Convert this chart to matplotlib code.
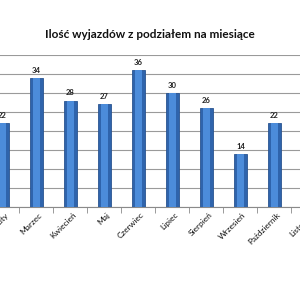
import matplotlib
matplotlib.use("Agg")
from matplotlib import pyplot as plt

plt.rcParams["font.family"] = ["Lato", "DejaVu Sans"]

months = ["Luty", "Marzec", "Kwiecień", "Maj", "Czerwiec", "Lipiec",
          "Sierpień", "Wrzesień", "Październik", "Listopad"]
trips = [22, 34, 28, 27, 36, 30, 26, 14, 22, 20]

fig = plt.figure(figsize=(3, 3), dpi=100)
fig.patch.set_facecolor("white")
ax = fig.add_axes([0, 0.31, 1, 0.5067])

xs = list(range(len(months)))
ax.bar(xs, trips, width=0.38, color="#2f64ac", edgecolor="#2a5490", linewidth=0.6, zorder=3)
ax.bar(xs, trips, width=0.18, color="#4c8cda", linewidth=0, zorder=4)

for x, v in zip(xs, trips):
    ax.annotate(str(v), (x, v), xytext=(0, 3), textcoords="offset points",
                ha="center", va="bottom", fontsize=5.5, fontweight="bold", color="#222222")

# month labels drawn as annotations so the last one (partly off-canvas) still shows
for x, m in zip(xs, months):
    ax.annotate(m, (x, 0), xytext=(1.5, -3), textcoords="offset points",
                rotation=45, ha="right", va="top", rotation_mode="anchor",
                fontsize=6, color="#111111", annotation_clip=False)

ax.set_yticks(range(0, 41, 5))
ax.yaxis.grid(True, color="#9a9a9a", linewidth=0.8, zorder=0)
ax.tick_params(axis="y", length=0, labelleft=False)
for s in ["top", "right", "left"]:
    ax.spines[s].set_visible(False)
ax.spines["bottom"].set_color("#8a8a8a")

ax.set_xticks([x + 0.5 for x in xs], minor=True)
ax.set_xticks([])
ax.tick_params(axis="x", which="minor", length=4, color="#8a8a8a")
ax.set_xlim(-0.0735, 8.75)
ax.set_ylim(0, 40)

fig.text(0.5, 0.885, "Ilość wyjazdów z podziałem na miesiące", ha="center", va="center",
         fontsize=8.5, fontweight="bold", color="#111111")

fig.savefig("out.png", dpi=100)
